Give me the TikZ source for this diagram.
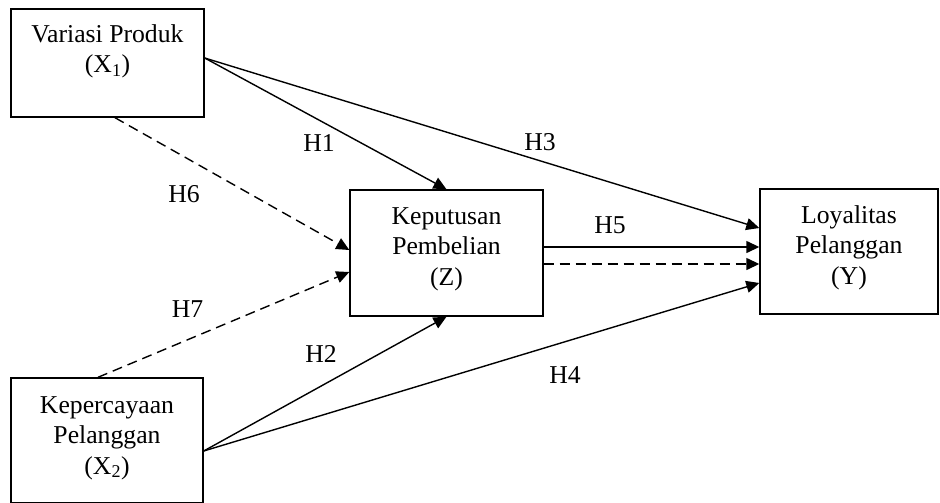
\documentclass[tikz,border=0pt]{standalone}
\usepackage{fontspec}
\setmainfont{Liberation Serif}
\usetikzlibrary{arrows.meta, positioning}

\tikzset{
    box/.style={draw, line width=1.4pt, inner sep=0pt},
    txt/.style={align=center, inner sep=0pt, anchor=north, font=\fontsize{25.7}{30.5}\selectfont},
    lbl/.style={inner sep=0pt, font=\fontsize{25.7}{30.5}\selectfont},
    arr/.style={line width=1.4pt, -{Triangle[length=13pt, width=12pt]}},
    dasharr/.style={arr, dash pattern=on 10pt off 6pt}
}

\begin{document}
\begin{tikzpicture}[x=1pt, y=-1pt]
    \useasboundingbox (0,0) rectangle (940,503);

    % Variables
    \node[box, minimum width=193pt, minimum height=108pt] (x1) at (107.5,63) {};
    \node[box, minimum width=192pt, minimum height=125pt] (x2) at (107,440.5) {};
    \node[box, minimum width=193pt, minimum height=126pt] (z) at (446.5,253) {};
    \node[box, minimum width=178pt, minimum height=125pt] (y) at (849,251.5) {};

    \node[txt] (x1t) at (107.5,24) {Variasi Produk\\(X\textsubscript{1})};
    \node[txt] (x2t) at (107,396) {Kepercayaan\\Pelanggan\\(X\textsubscript{2})};
    \node[txt] (zt) at (446.5,207) {Keputusan\\Pembelian\\(Z)};
    \node[txt] (yt) at (849,205) {Loyalitas\\Pelanggan\\(Y)};

    % Direct paths
    \draw[arr] ([yshift=5pt]x1.east) -- (z.north);
    \draw[arr] ([yshift=5pt]x1.east) -- ([yshift=23.5pt]y.west);
    \draw[arr] ([yshift=-10.5pt]x2.east) -- (z.south);
    \draw[arr] ([yshift=-10.5pt]x2.east) -- ([yshift=-31.5pt]y.west);
    \draw[arr] ([yshift=6pt]z.east) -- ([yshift=6pt]z.east -| y.west);

    % Mediated paths
    \draw[dasharr] ([xshift=7.5pt]x1.south) -- ([yshift=3pt]z.west);
    \draw[dasharr] ([xshift=-9pt]x2.north) -- ([yshift=-19pt]z.west);
    \draw[dasharr] ([yshift=-11pt]z.east) -- ([yshift=-11pt]z.east -| y.west);

    % Hypotheses
    \node[lbl] (h1) at (319,143) {H1};
    \node[lbl] (h2) at (321,354) {H2};
    \node[lbl] (h3) at (540,142) {H3};
    \node[lbl] (h4) at (565,375) {H4};
    \node[lbl] (h5) at (610,225) {H5};
    \node[lbl] (h6) at (184,194) {H6};
    \node[lbl] (h7) at (187.5,309) {H7};
\end{tikzpicture}
\end{document}
